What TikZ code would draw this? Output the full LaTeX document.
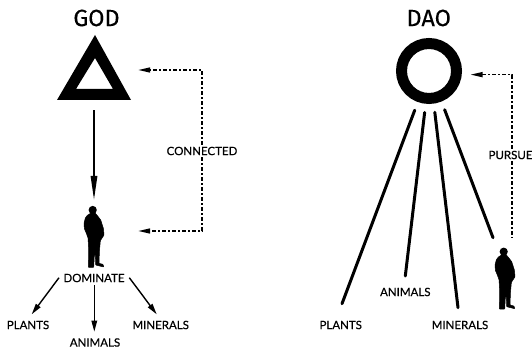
\documentclass[tikz,border=0pt]{standalone}
\usepackage{fontspec}
\setmainfont[FakeBold=0.4]{Lato}
\newfontfamily\titlefont[FakeBold=0.2]{Fira Sans}
\usetikzlibrary{arrows.meta}
\tikzset{
 x=1pt,y=-1pt,
 lbl/.style={inner sep=2pt,font=\fontsize{11.5}{12}\selectfont},
 title/.style={inner sep=0pt,font=\titlefont\fontsize{23.5}{25}\selectfont},
 solidarrow/.style={line width=1.5pt,-{Triangle[length=24pt,width=6.5pt]}},
 smallarrow/.style={line width=1.4pt,-{Triangle[length=11pt,width=5.5pt]}},
 linkline/.style={line width=1.4pt,dash pattern=on 4pt off 2pt on 1.5pt off 2.5pt},
 linkarrow/.style={linkline,-{Triangle[length=12pt,width=5pt]}},
 ray/.style={line width=3pt,line cap=round},
 person/.pic={
  \filldraw[line width=0.5pt,line join=round,rounded corners=0.5pt,scale=1/3] (-5,9)--(-16,16)--(-22,24)--(-26,40)--(-25,56)--(-19,70)--(-14,84)--(-12,120)--(-13,172)--(3,172)--(5,135)--(8,135)--(9,165)--(33,171)--(31,163)--(19,160)--(20,125)--(23,92)--(34,75)--(32,55)--(24,30)--(14,17)--(7,9)--cycle;
  \fill (0,0) circle (4.1);
 }
}
\begin{document}
\begin{tikzpicture}
\useasboundingbox (0,0) rectangle (532,352);
% left side
\node[title] (godt) at (96.5,18) {GOD};
\fill[even odd rule] (95,35)--(131,100)--(57,100)--cycle (95,58)--(113,89)--(76,89)--cycle;
\node[inner sep=0pt,minimum width=88pt,minimum height=80pt] (god) at (94,70) {};
\node[inner sep=0pt,minimum width=88pt,minimum height=62pt] (man1) at (94,231) {};
\pic at (92.7,210) {person};
\node[lbl] (connected) at (202,151) {CONNECTED};
\node[lbl] (dominate) at (94,278) {DOMINATE};
\node[lbl] (plants1) at (28,325) {PLANTS};
\node[lbl] (animals1) at (95,342.5) {ANIMALS};
\node[lbl] (minerals1) at (160.7,325) {MINERALS};
\draw[solidarrow] (god.south) -- (man1.north);
\draw[linkarrow] (connected.north) |- (god.east);
\draw[linkarrow] (connected.south) |- (man1.east);
\coordinate (dl) at (59,277.7);
\coordinate (dlt) at (31.7,314.3);
\coordinate (dr) at (129.3,277.7);
\coordinate (drt) at (156.7,314.3);
\coordinate (dc) at (94.3,285.3);
\coordinate (dct) at (94.3,331.7);
\draw[smallarrow] (dl) -- (dlt);
\draw[smallarrow] (dc) -- (dct);
\draw[smallarrow] (dr) -- (drt);
% right side
\node[title] (daot) at (428.7,18) {DAO};
\node[circle,draw,line width=11pt,minimum size=55pt,inner sep=0pt] (ring) at (429,71) {};
\node[circle,inner sep=0pt,minimum size=83pt] (dao) at (429,71) {};
\pic at (503.7,251.7) {person};
\node[lbl] (pursue) at (510.5,155) {PURSUE};
\node[lbl] (plants2) at (340.7,325) {PLANTS};
\node[lbl] (animals2) at (405.3,292) {ANIMALS};
\node[lbl] (minerals2) at (460,325) {MINERALS};
\coordinate (r1) at (342,303.7);
\coordinate (r2) at (405.3,276);
\coordinate (r3) at (458,307.7);
\coordinate (r4) at (493,237.7);
\draw[ray] (dao.250) -- (r1);
\draw[ray] (dao.264) -- (r2);
\draw[ray] (dao.278) -- (r3);
\draw[ray] (dao.292.7) -- (r4);
\coordinate (pj) at (512,75);
\coordinate (pe) at (512,238);
\draw[linkline] (pj|-pursue.south) -- (pe);
\draw[linkarrow] (pj|-pursue.north) |- (dao.-5.6);
\end{tikzpicture}
\end{document}
